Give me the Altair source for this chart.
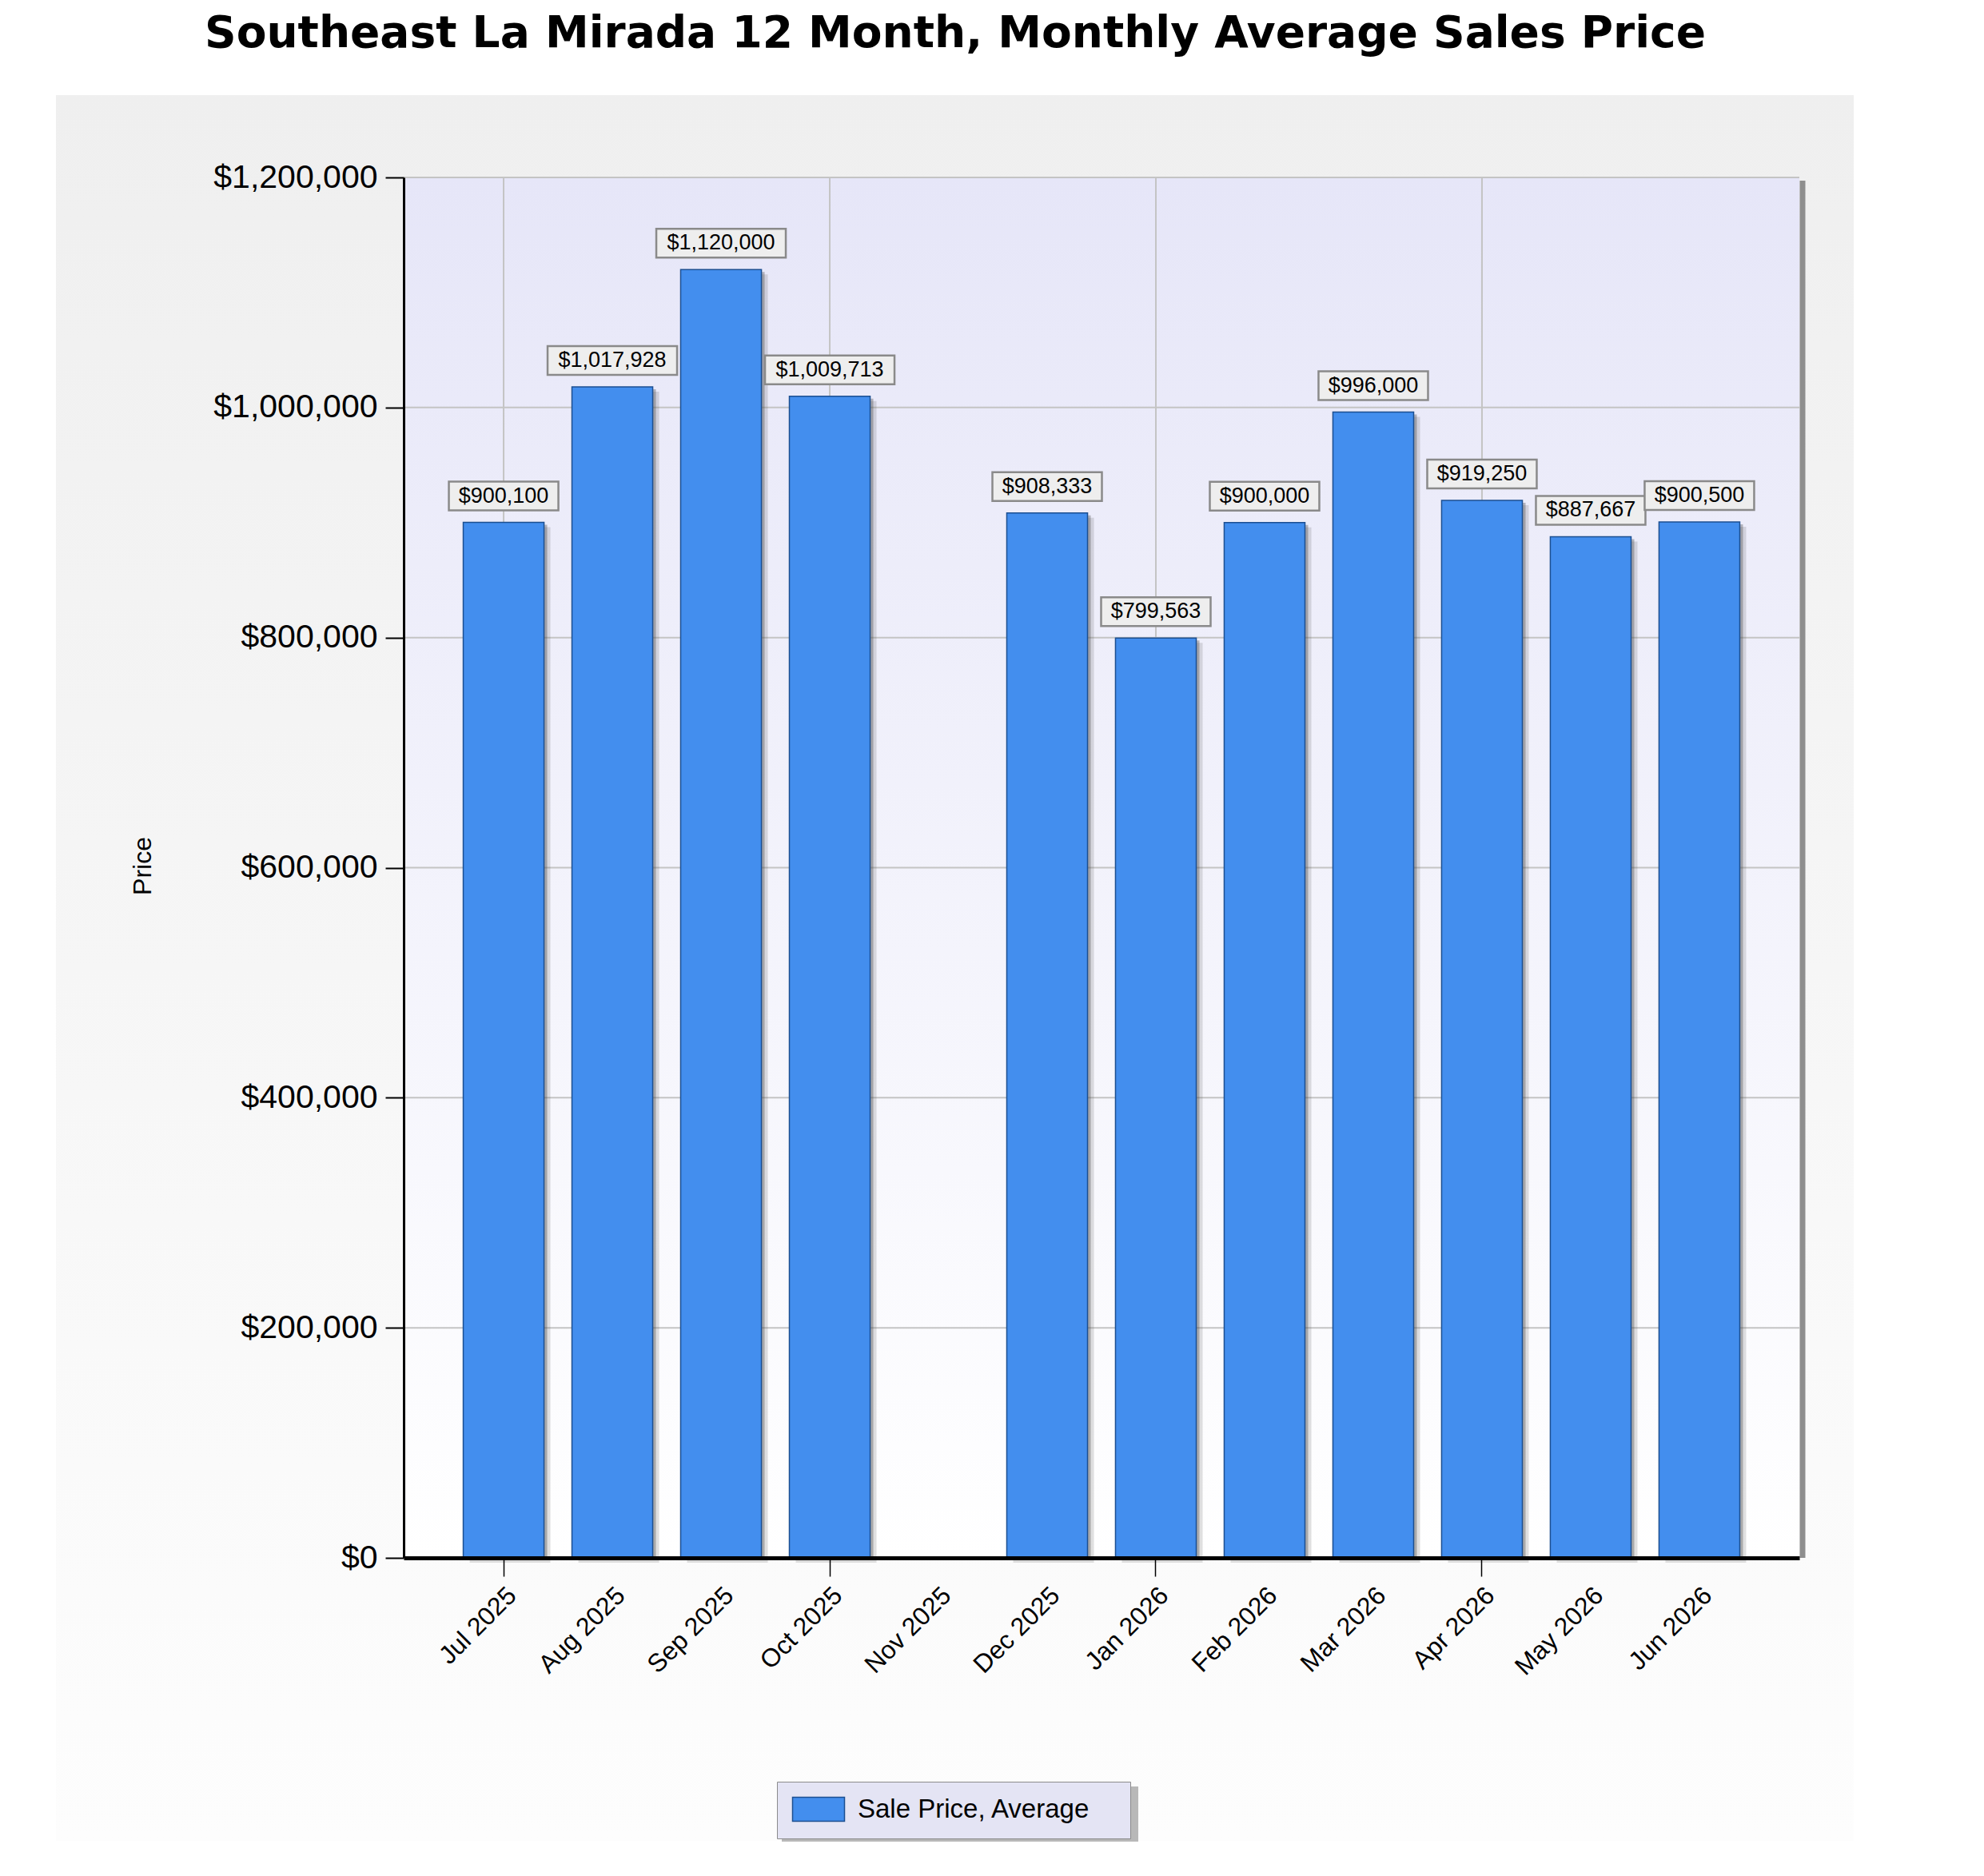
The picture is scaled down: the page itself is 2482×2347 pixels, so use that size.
import altair as alt
import pandas as pd

# ---- data ----
months = ["Jul 2025", "Aug 2025", "Sep 2025", "Oct 2025", "Nov 2025", "Dec 2025",
          "Jan 2026", "Feb 2026", "Mar 2026", "Apr 2026", "May 2026", "Jun 2026"]
prices = [900100, 1017928, 1120000, 1009713, None, 908333,
          799563, 900000, 996000, 919250, 887667, 900500]
series_name = "Sale Price, Average"
y_ticks = [0, 200000, 400000, 600000, 800000, 1000000, 1200000]
grid_months = ["Jul 2025", "Oct 2025", "Jan 2026", "Apr 2026"]
title_text = "Southeast La Mirada 12 Month, Monthly Average Sales Price"
y_title = "Price"

df = pd.DataFrame({"month": months, "value": prices, "series": series_name})
one = pd.DataFrame({"k": [0]})

FONT = "Liberation Sans"
BAR = "#438eee"

quarter_test = "indexof([" + ",".join("'%s'" % m for m in grid_months) + "], datum.value) >= 0"

x_scale = alt.Scale(domain=months, paddingInner=0.257, paddingOuter=0.548)
y_scale = alt.Scale(domain=[0, 1200000], nice=False, zero=True)

x_axis = alt.Axis(title=None, labelAngle=-45, labelFont=FONT, labelFontSize=32,
                  labelColor="black", labelPadding=8, tickSize=23, tickColor="black",
                  tickWidth=1.5,
                  tickOpacity={"condition": {"test": quarter_test, "value": 1}, "value": 0},
                  domainColor="black", domainWidth=5, grid=False, zindex=1)
y_axis = alt.Axis(values=y_ticks, format="$,.0f", labelFont=FONT, labelFontSize=41,
                  labelColor="black", labelPadding=10, labelLimit=500, tickSize=23,
                  tickColor="black", tickWidth=2, domainColor="black", domainWidth=3,
                  grid=False, title=y_title, titleFont=FONT, titleFontSize=32,
                  titleFontWeight="normal", titleColor="black", titleX=-327, titleY=861,
                  titleAlign="center", titleBaseline="middle", zindex=1)

x_enc = alt.X("month:N", scale=x_scale, axis=x_axis)
y_enc = alt.Y("value:Q", scale=y_scale, axis=y_axis)

outer_grad = alt.LinearGradient(gradient="linear", x1=0, x2=0, y1=0, y2=1, stops=[
    alt.GradientStop(offset=0, color="#efefef"),
    alt.GradientStop(offset=1, color="#fdfdfd")])
plot_grad = alt.LinearGradient(gradient="linear", x1=0, x2=0, y1=0, y2=1, stops=[
    alt.GradientStop(offset=0, color="#e6e6f8"),
    alt.GradientStop(offset=1, color="#ffffff")])

outer = alt.Chart(one).mark_rect(color=outer_grad).encode(
    x=alt.value(-435), x2=alt.value(1814), y=alt.value(-103), y2=alt.value(2081))
plotbg = alt.Chart(one).mark_rect(color=plot_grad).encode(
    x=alt.value(0), x2=alt.value("width"), y=alt.value(0), y2=alt.value("height"))
legend_shadow = alt.Chart(one).mark_rect(color="#8a8a8a", opacity=0.6).encode(
    x=alt.value(473), x2=alt.value(919), y=alt.value(2013), y2=alt.value(2082))

hgrid = alt.Chart(pd.DataFrame({"value": y_ticks[1:]})).mark_rule(
    color="#c4c4c4", strokeWidth=2).encode(y=y_enc)
vgrid = alt.Chart(pd.DataFrame({"month": grid_months})).mark_rule(
    color="#c4c4c4", strokeWidth=2).encode(x=x_enc)

base = alt.Chart(df)
shadow2 = base.mark_bar(color="#555555", opacity=0.18, xOffset=8, yOffset=6).encode(x=x_enc, y=y_enc)
shadow1 = base.mark_bar(color="#444444", opacity=0.35, xOffset=4, yOffset=3).encode(x=x_enc, y=y_enc)
bars = base.mark_bar(stroke="#1c4f91", strokeWidth=1.5, opacity=1).encode(
    x=x_enc, y=y_enc,
    color=alt.Color("series:N", scale=alt.Scale(domain=[series_name], range=[BAR]),
                    legend=alt.Legend(
                        orient="none", legendX=467, legendY=2007, direction="horizontal",
                        title="\u2014", titleOrient="right", titleOpacity=0,
                        titleFontSize=24, titlePadding=8,
                        fillColor="#e4e4f4", strokeColor="#8c8c8c",
                        padding=18,
                        symbolType="M-1,-1L3.333,-1L3.333,1L-1,1Z",
                        symbolSize=900, symbolStrokeColor="#1c4f91",
                        symbolStrokeWidth=1.5, symbolOpacity=1,
                        labelFont=FONT, labelFontSize=33, labelColor="black",
                        labelOffset=50, labelLimit=1000)))

long_path = "M-1,-0.2222L1,-0.2222L1,0.2222L-1,0.2222Z"
short_path = "M-0.8457,-0.2222L0.8457,-0.2222L0.8457,0.2222L-0.8457,0.2222Z"

labeled = base.transform_filter("datum.value != null").transform_calculate(
    kind="datum.value >= 1000000 ? 'long' : 'short'")
boxes = labeled.mark_point(filled=True, fill="#eeeeee", stroke="#8a8a8a", strokeWidth=2.5,
                           opacity=1, size=26244, yOffset=-33).encode(
    x=x_enc, y=y_enc,
    shape=alt.Shape("kind:N", scale=alt.Scale(domain=["long", "short"],
                                              range=[long_path, short_path]), legend=None))
texts = labeled.mark_text(dy=-33, baseline="middle", align="center", font=FONT,
                          fontSize=27, color="black").encode(
    x=x_enc, y=y_enc, text=alt.Text("value:Q", format="$,.0f"))

rshadow = alt.Chart(one).mark_rule(color="#8e8e8e", strokeWidth=7, xOffset=4).encode(
    x=alt.value("width"), y=alt.value(4), y2=alt.value("height"))

chart = alt.layer(outer, plotbg, legend_shadow, hgrid, vgrid, shadow2, shadow1, bars,
                  boxes, texts, rshadow).properties(
    width=1746, height=1727,
    autosize=alt.AutoSizeParams(type="none"),
    padding={"left": 497, "top": 214, "right": 223, "bottom": 390},
    background="white",
    title=alt.Title(title_text, anchor="middle", frame="group", dx=-183, offset=5,
                    baseline="alphabetic", font="DejaVu Sans", fontSize=55,
                    fontWeight="bold", color="black"),
).configure_view(stroke=None)

chart.save("out.html", embed_options={"renderer": "svg", "actions": False})
